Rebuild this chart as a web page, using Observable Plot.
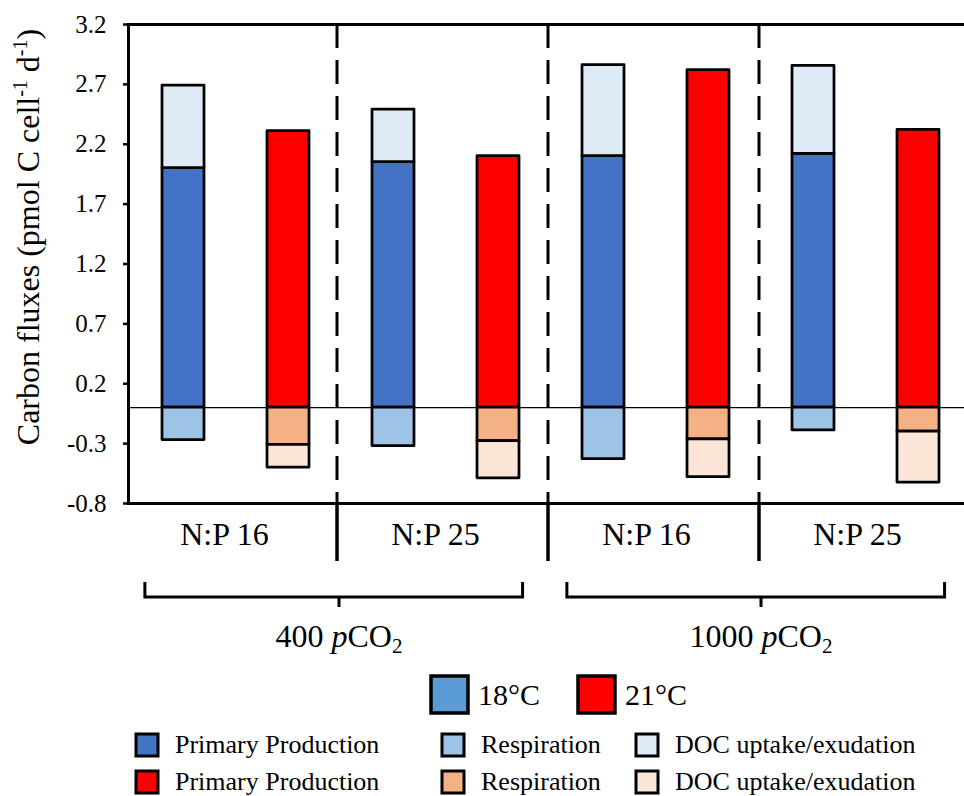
<!DOCTYPE html>
<html>
<head>
<meta charset="utf-8">
<script src="https://cdn.jsdelivr.net/npm/d3@7"></script>
<script src="https://cdn.jsdelivr.net/npm/@observablehq/plot@0.6"></script>
<style>
  body { margin: 0; background: #fff; }
  #chart svg { display: block; }
  #chart text, #chart tspan { font-family: 'Liberation Serif', 'Times New Roman', Tinos, serif; }
</style>
</head>
<body>
<div id="chart"></div>
<script>
// ---- data ----
const co2Level = ["400", "400", "400", "400", "1000", "1000", "1000", "1000"];
const npRatio = ["N:P 16", "N:P 16", "N:P 25", "N:P 25", "N:P 16", "N:P 16", "N:P 25", "N:P 25"];
const temperature = ["18°C", "21°C", "18°C", "21°C", "18°C", "21°C", "18°C", "21°C"];
const primaryProduction = [2.00, 2.31, 2.05, 2.10, 2.10, 2.82, 2.12, 2.32];
const respiration = [-0.27, -0.31, -0.32, -0.28, -0.43, -0.265, -0.19, -0.20];
const docFlux = [0.69, -0.19, 0.44, -0.31, 0.76, -0.315, 0.735, -0.425];
const yTicks = [3.2, 2.7, 2.2, 1.7, 1.2, 0.7, 0.2, -0.3, -0.8];
const fluxTypes = ["Primary Production", "Respiration", "DOC uptake/exudation"];
const colors18 = ["#4472C4", "#9DC3E6", "#DEEBF7"];
const colors21 = ["#FF0000", "#F4B183", "#FBE5D6"];
const tempLegend = ["18°C", "21°C"];
const tempLegendColors = ["#5B9BD5", "#FF0000"];
const co2Groups = ["400", "1000"];

// ---- build table ----
const keys = co2Level.map((c, i) => `${c}|${npRatio[i]}|${temperature[i]}`);
const rows = [];
keys.forEach((k, i) => {
  const vals = [primaryProduction[i], respiration[i], docFlux[i]];
  const pal = temperature[i] === "18°C" ? colors18 : colors21;
  fluxTypes.forEach((t, j) => rows.push({key: k, type: t, value: vals[j], color: pal[j]}));
});

const FONT = "'Liberation Serif', 'Times New Roman', Tinos, serif";
const W = 964, H = 796, ML = 128, MR = -8, MT = 24, YB = 503;

const plot = Plot.plot({
  width: W, height: H,
  marginLeft: ML, marginRight: MR, marginTop: MT, marginBottom: H - YB,
  style: {fontFamily: FONT, fontSize: "25px", background: "white", color: "black"},
  x: {type: "band", domain: keys, paddingInner: 0.6, paddingOuter: 0.3, axis: null},
  y: {domain: [-0.8, 3.2], axis: null},
  color: {type: "identity"},
  marks: [
    Plot.ruleY([0], {stroke: "black", strokeWidth: 1.2}),
    Plot.barY(rows, Plot.stackY({x: "key", y: "value", fill: "color", stroke: "black", strokeWidth: 2.75, strokeLinejoin: "round"})),
    Plot.axisY({ticks: yTicks, tickFormat: d => d.toFixed(1), tickSize: 5, tickPadding: 17,
                strokeWidth: 2.5, fontSize: 25, label: null, fill: "black"}),
    Plot.frame({stroke: "black", strokeWidth: 3})
  ]
});
document.getElementById("chart").appendChild(plot);

// ---- annotations using the same scales ----
const xs = d3.scaleBand().domain(keys).range([ML, W - MR]).paddingInner(0.6).paddingOuter(0.3);
const center = k => xs(k) + xs.bandwidth() / 2;
const step = xs.step();
const svg = d3.select(plot);
const g = svg.append("g").attr("fill", "black").attr("text-anchor", "start");

// group boundaries (between N:P groups)
const boundaries = [];
for (let i = 1; i < keys.length; i++) {
  if (npRatio[i] !== npRatio[i - 1] || co2Level[i] !== co2Level[i - 1]) {
    boundaries.push((center(keys[i - 1]) + center(keys[i])) / 2);
  }
}
boundaries.forEach(bx => {
  g.append("line").attr("x1", bx - 2).attr("x2", bx - 2).attr("y1", MT).attr("y2", YB)
    .attr("stroke", "black").attr("stroke-width", 3).attr("stroke-dasharray", "24 12");
  g.append("line").attr("x1", bx - 2).attr("x2", bx - 2).attr("y1", YB).attr("y2", 561)
    .attr("stroke", "black").attr("stroke-width", 3.5);
});

// N:P labels
for (let i = 0; i < keys.length; i += 2) {
  const cx = (center(keys[i]) + center(keys[i + 1])) / 2;
  g.append("text").attr("x", cx - 9).attr("y", 545).attr("text-anchor", "middle")
    .attr("font-size", 32).text(npRatio[i]);
}

// CO2 brackets + labels
co2Groups.forEach(c => {
  const idx = co2Level.map((v, i) => v === c ? i : -1).filter(i => i >= 0);
  const mid = (center(keys[idx[1]]) + center(keys[idx[2]])) / 2;
  const x1 = mid - 1.84 * step, x2 = mid + 1.74 * step;
  g.append("path").attr("d", `M${x1},582 L${x1},597 L${x2},597 L${x2},582 M${mid},597 L${mid},607`)
    .attr("fill", "none").attr("stroke", "black").attr("stroke-width", 3);
  const t = g.append("text").attr("x", mid).attr("y", 647).attr("text-anchor", "middle").attr("font-size", 32);
  t.append("tspan").text(c + " ");
  t.append("tspan").attr("font-style", "italic").text("p");
  t.append("tspan").text("CO");
  t.append("tspan").attr("font-size", 21).attr("dy", 6).text("2");
});

// y-axis title
const yt = g.append("text").attr("transform", `translate(39,${237}) rotate(-90)`)
  .attr("text-anchor", "middle").attr("font-size", 32);
yt.append("tspan").text("Carbon fluxes (pmol C cell");
yt.append("tspan").attr("font-size", 20).attr("dy", -12).text("-1");
yt.append("tspan").attr("dy", 12).text(" d");
yt.append("tspan").attr("font-size", 20).attr("dy", -12).text("-1");
yt.append("tspan").attr("dy", 12).text(")");

// legend: temperatures
const tempX = [431, 578];
tempLegend.forEach((lab, i) => {
  g.append("rect").attr("x", tempX[i]).attr("y", 676).attr("width", 37).attr("height", 37)
    .attr("fill", tempLegendColors[i]).attr("stroke", "black").attr("stroke-width", 3.5);
  g.append("text").attr("x", tempX[i] + 47).attr("y", 705).attr("font-size", 30).text(lab);
});

// legend: flux types
const colX = [136, 442, 636];
const rowY = [734, 771];
[colors18, colors21].forEach((pal, r) => {
  fluxTypes.forEach((t, j) => {
    g.append("rect").attr("x", colX[j]).attr("y", rowY[r]).attr("width", 22).attr("height", 22)
      .attr("fill", pal[j]).attr("stroke", "black").attr("stroke-width", 3);
    g.append("text").attr("x", colX[j] + 39).attr("y", rowY[r] + 19).attr("font-size", 26).text(t);
  });
});
</script>
</body>
</html>
